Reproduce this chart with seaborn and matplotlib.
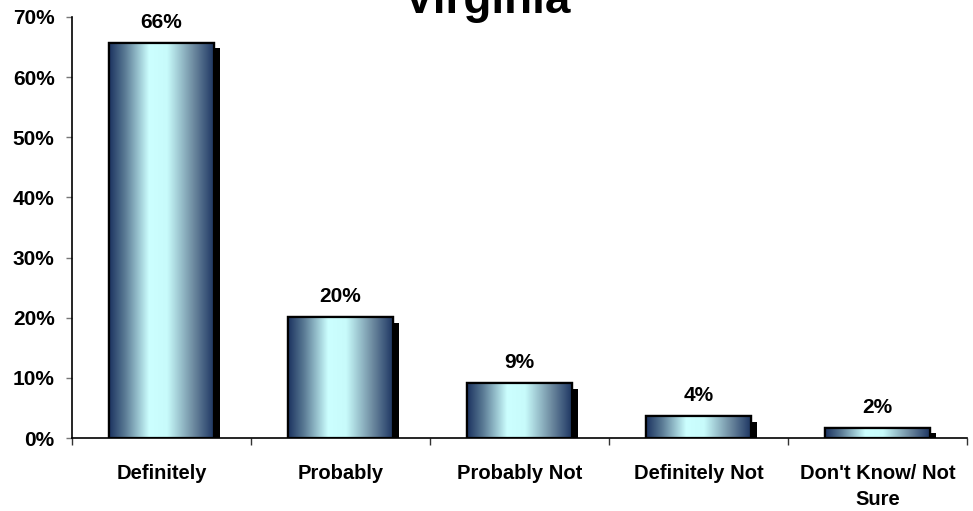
import numpy as np
import pandas as pd
import matplotlib
matplotlib.use('Agg')
import matplotlib.pyplot as plt
import matplotlib.patheffects as pe
from matplotlib.colors import LinearSegmentedColormap
from matplotlib.ticker import FuncFormatter, FixedLocator
import seaborn as sns

categories = ['Definitely', 'Probably', 'Probably Not', 'Definitely Not', "Don't Know/ Not\nSure"]
values = [65.7, 20.1, 9.1, 3.6, 1.7]
value_labels = ['66%', '20%', '9%', '4%', '2%']
title = 'Virginia'

sns.set_style('white')
plt.rcParams['font.family'] = ['Liberation Sans', 'DejaVu Sans']
plt.rcParams['font.weight'] = 'bold'
plt.rcParams['text.color'] = 'black'
plt.rcParams['xtick.color'] = 'black'
plt.rcParams['ytick.color'] = 'black'

df = pd.DataFrame({'category': categories, 'value': values})

fig = plt.figure(figsize=(9.73, 5.11), dpi=100)
ax = fig.add_axes([72 / 973, 73 / 511, (967 - 72) / 973, (438 - 17) / 511])

sns.barplot(data=df, x='category', y='value', ax=ax, width=0.59,
            color='#1f3a66', edgecolor='black', linewidth=1.6, saturation=1)

# gradient fill inside each bar + drop shadow
cmap = LinearSegmentedColormap.from_list('cyl', [
  (0.0, '#1b3360'), (0.15, '#5a7a94'), (0.38, '#ccffff'),
  (0.55, '#c8fbfb'), (0.8, '#6d8aa0'), (1.0, '#1b3360')])
grad = np.linspace(0, 1, 256).reshape(1, -1)
for bar in ax.patches:
  bar.set_path_effects([pe.SimplePatchShadow(offset=(4, -4), shadow_rgbFace='black', alpha=1.0), pe.Normal()])
  x0, y0 = bar.get_x(), bar.get_y()
  w, h = bar.get_width(), bar.get_height()
  im = ax.imshow(grad, cmap=cmap, aspect='auto', extent=[x0, x0 + w, y0, y0 + h], zorder=bar.get_zorder() + 0.1, interpolation='bicubic')
  im.set_clip_path(bar)
  edge = plt.Rectangle((x0, y0), w, h, fill=False, edgecolor='black', linewidth=1.6, zorder=bar.get_zorder() + 0.2)
  ax.add_patch(edge)

ax.bar_label(ax.containers[0], labels=value_labels, padding=8, fontsize=15, fontweight='bold', color='black')

ax.set_xlim(-0.5, len(categories) - 0.5)
ax.set_ylim(0, 70)
ax.set_yticks(range(0, 71, 10))
ax.yaxis.set_major_formatter(FuncFormatter(lambda v, _: f'{v:.0f}%'))
ax.set_xlabel('')
ax.set_ylabel('')

ax.xaxis.set_minor_locator(FixedLocator(np.arange(-0.5, len(categories), 1.0)))
ax.tick_params(axis='x', which='major', bottom=True, length=0, pad=19, labelsize=14.5, labelcolor='black')
ax.tick_params(axis='x', which='minor', bottom=True, length=5, width=1, color='#333333', direction='out')
ax.tick_params(axis='y', left=True, length=4.5, width=1, color='#777777', direction='out', labelsize=15, pad=8, labelcolor='black')
for lab in ax.get_xticklabels() + ax.get_yticklabels():
  lab.set_fontweight('bold')
  lab.set_linespacing(1.45)

sns.despine(ax=ax)
ax.spines['left'].set_linewidth(1.2)
ax.spines['bottom'].set_linewidth(1.2)
ax.spines['left'].set_color('black')
ax.spines['bottom'].set_color('black')

fig.text(487 / 973, 1 - 13 / 511, title, ha='center', va='baseline', fontsize=33, fontweight='bold')

fig.savefig('out.png', dpi=100)
